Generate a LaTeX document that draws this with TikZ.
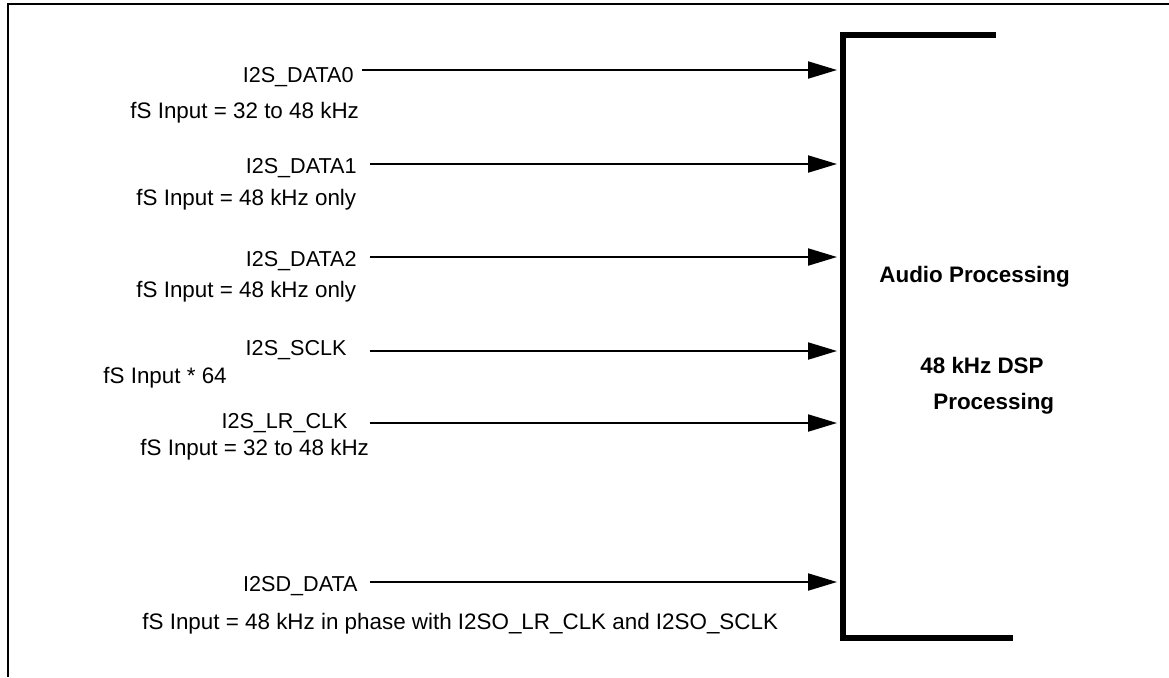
\documentclass[tikz,border=0pt]{standalone}
\usepackage{fontspec}
\setmainfont{Liberation Sans}
\usetikzlibrary{arrows.meta}
\begin{document}
\begin{tikzpicture}[x=0.5pt,y=-0.5pt,
  lbl/.style={inner sep=0pt, font=\fontsize{10.8}{13}\selectfont},
  sub/.style={inner sep=0pt, font=\fontsize{11.2}{13}\selectfont},
  blk/.style={inner sep=0pt, font=\fontsize{11.2}{13}\selectfont\bfseries},
  arr/.style={line width=1pt, -{Triangle[length=14.5pt,width=8.5pt]}},
  frame/.style={line width=1.25pt},
  bracket/.style={line width=3pt, miter limit=10}]
\useasboundingbox (0,0) rectangle (1169,677);
% outer frame
\draw[frame] (8,677) -- (8,4) -- (1169,4);
% processing bracket
\draw[bracket] (996,35) -- (843,35) -- (843,638) -- (1013,638);
% labels
\node[lbl, anchor=base east] (d0) at (354,82) {I2S\_DATA0};
\node[sub, anchor=base west] (f0) at (130,118) {fS Input = 32 to 48 kHz};
\node[lbl, anchor=base east] (d1) at (357,173) {I2S\_DATA1};
\node[sub, anchor=base west] (f1) at (136,205) {fS Input = 48 kHz only};
\node[lbl, anchor=base east] (d2) at (357,266) {I2S\_DATA2};
\node[sub, anchor=base west] (f2) at (136,297) {fS Input = 48 kHz only};
\node[lbl, anchor=base east] (sc) at (347,355) {I2S\_SCLK};
\node[sub, anchor=base west] (fsc) at (103,383) {fS Input * 64};
\node[lbl, anchor=base east] (lr) at (348,428) {I2S\_LR\_CLK};
\node[sub, anchor=base west] (flr) at (140,455) {fS Input = 32 to 48 kHz};
\node[lbl, anchor=base east] (sd) at (358,591) {I2SD\_DATA};
\node[sub, anchor=base west] (fsd) at (142,629) {fS Input = 48 kHz in phase with I2SO\_LR\_CLK and I2SO\_SCLK};
% block text
\node[blk, anchor=base west] (ap) at (879,282) {Audio Processing};
\node[blk, anchor=base west] (dsp) at (920,373) {48 kHz DSP};
\node[blk, anchor=base west] (pr) at (933,409) {Processing};
% connector ends
\coordinate (s0) at (362,70);  \coordinate (e0) at (837,70);
\coordinate (s1) at (370,164); \coordinate (e1) at (837,164);
\coordinate (s2) at (370,257); \coordinate (e2) at (837,257);
\coordinate (s3) at (370,351); \coordinate (e3) at (837,351);
\coordinate (s4) at (370,423); \coordinate (e4) at (837,423);
\coordinate (s5) at (370,582); \coordinate (e5) at (837,582);
\foreach \i in {0,...,5} \draw[arr] (s\i) -- (e\i);
\end{tikzpicture}
\end{document}
